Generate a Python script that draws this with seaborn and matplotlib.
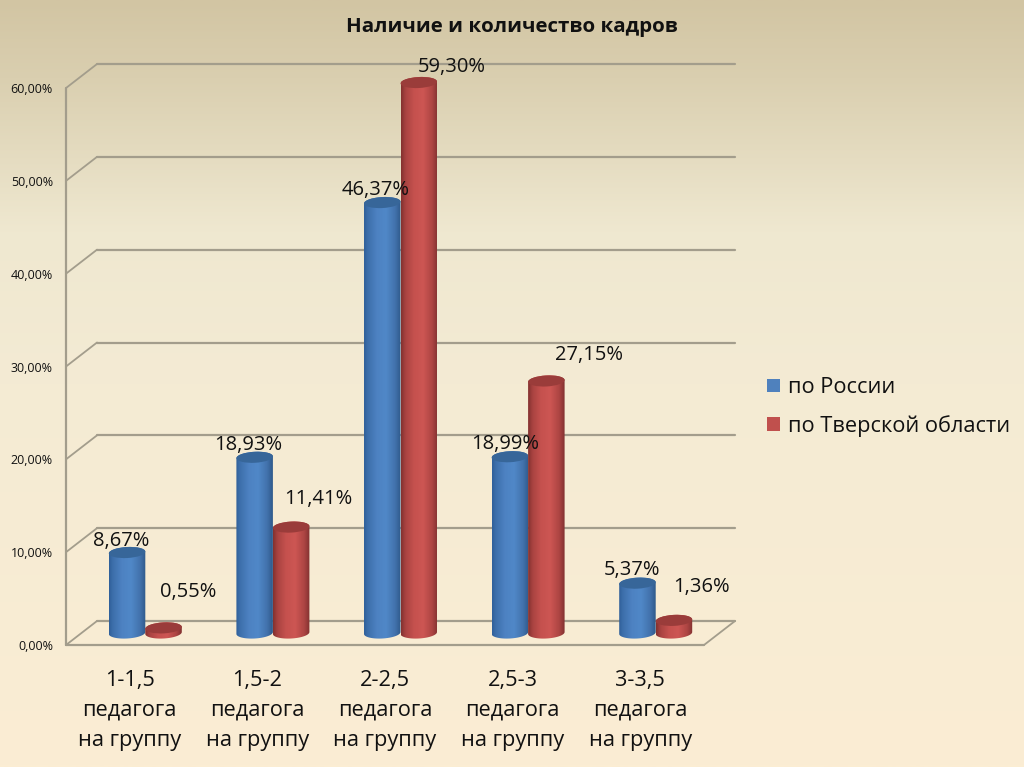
import matplotlib.pyplot as plt
import numpy as np
import pandas as pd
import seaborn as sns
from matplotlib.colors import LinearSegmentedColormap
from matplotlib.patches import Ellipse
from matplotlib.path import Path
from matplotlib.transforms import Affine2D, IdentityTransform

sns.set_theme(style="white")
plt.rcParams["font.family"] = ["Open Sans", "DejaVu Sans"]

groups = ["1-1,5\nпедагога\nна группу", "1,5-2\nпедагога\nна группу", "2-2,5\nпедагога\nна группу",
          "2,5-3\nпедагога\nна группу", "3-3,5\nпедагога\nна группу"]
series = ["по России", "по Тверской области"]
russia = [8.67, 18.93, 46.37, 18.99, 5.37]
tver = [0.55, 11.41, 59.30, 27.15, 1.36]
y_ticks = [0, 10, 20, 30, 40, 50, 60]

# label offsets from the bar top, in pixels
russia_offsets = [(-6, 12), (-6.5, 12.5), (-7, 13), (-5, 12.5), (-5, 13.5)]
tver_offsets = [(24.5, 35.5), (27, 28.5), (33, 16), (43, 25.5), (28, 33.5)]

DEPTH_X, DEPTH_Y = 15.5, 12
FRONT = Affine2D().translate(-DEPTH_X, -DEPTH_Y)
BACK = Affine2D().translate(DEPTH_X, DEPTH_Y)
LINE_COLOR = "#a39d8c"
TEXT_COLOR = "#111111"
RADIUS_Y = 5.5
TILT = np.deg2rad(3)

df = pd.DataFrame({
    "group": groups * 2,
    "series": [series[0]] * 5 + [series[1]] * 5,
    "value": russia + tver,
})

fig = plt.figure(figsize=(10.24, 7.67), dpi=100)

bg = fig.add_axes([0, 0, 1, 1], zorder=-1)
bg_cmap = LinearSegmentedColormap.from_list("bg", [
    (0, "#d2c5a3"), (0.1, "#dacfb0"), (0.3, "#efe8d0"), (0.5, "#f4ebd4"), (1, "#fbedd3")])
bg.imshow(np.linspace(0, 1, 256)[:, None], cmap=bg_cmap, aspect="auto", extent=(0, 1, 0, 1))
bg.axis("off")

ax = fig.add_axes([81.5 / 1024, (767 - 633) / 767, 638 / 1024, 62 * 9.283 / 767])
sns.barplot(data=df, x="group", y="value", hue="series", palette=["#4f81bd", "#c0504d"],
            width=0.572, gap=0, saturation=1, ax=ax)
ax.patch.set_alpha(0)
ax.set_xlim(-0.5, 4.5)
ax.set_ylim(0, 62)
ax.set_xlabel("")
ax.set_ylabel("")
sns.despine(ax=ax, left=True, bottom=True)
ax.set_yticks(y_ticks, [f"{t:.2f}%".replace(".", ",") for t in y_ticks])
ax.tick_params(axis="y", length=0, pad=9.4, labelsize=9, labelcolor=TEXT_COLOR)
ax.tick_params(axis="x", length=0, pad=26.5, labelsize=15.7, labelcolor=TEXT_COLOR)
for label in ax.get_yticklabels():
    label.set_transform(label.get_transform() + FRONT)
for label in ax.get_xticklabels():
    label.set_transform(label.get_transform() + Affine2D().translate(-DEPTH_X, 0))
    label.set_linespacing(1.56)

# walls: back lines, side lines to the front plane, front frame
for t in y_ticks:
    ax.plot([-0.5, 4.5], [t, t], color=LINE_COLOR, lw=1.6, transform=ax.transData + BACK, zorder=1, clip_on=False)
    x0, y0 = ax.transData.transform((-0.5, t))
    ax.plot([x0 - DEPTH_X, x0 + DEPTH_X], [y0 - DEPTH_Y, y0 + DEPTH_Y], color=LINE_COLOR, lw=1.3,
            transform=IdentityTransform(), zorder=1, clip_on=False)
ax.plot([-0.5, -0.5], [0, 60], color=LINE_COLOR, lw=1.6, transform=ax.transData + FRONT, zorder=1, clip_on=False)
ax.plot([-0.5, 4.5], [0, 0], color=LINE_COLOR, lw=1.6, transform=ax.transData + FRONT, zorder=1, clip_on=False)
x1, y1 = ax.transData.transform((4.5, 0))
ax.plot([x1 - DEPTH_X, x1 + DEPTH_X], [y1 - DEPTH_Y, y1 + DEPTH_Y], color=LINE_COLOR, lw=1.3,
        transform=IdentityTransform(), zorder=1, clip_on=False)


def draw_cylinder(bar, cmap, cap_color, zorder):
    # bar rectangle from seaborn becomes a shaded cylinder
    x, w, h = bar.get_x(), bar.get_width(), bar.get_height()
    bar.set_visible(False)
    (left, base), (right, top) = ax.transData.transform([(x, 0), (x + w, h)])
    cx, rx = (left + right) / 2, (right - left) / 2
    theta = np.linspace(np.pi, 2 * np.pi, 40)
    ex, ey = rx * np.cos(theta), RADIUS_Y * np.sin(theta)
    lower = np.column_stack([cx + ex, base + ey + ex * np.tan(TILT)])
    upper = np.column_stack([cx - ex, top - ey - ex * np.tan(TILT)])
    outline = Path(np.vstack([lower, upper, lower[:1]]))
    pad = RADIUS_Y * 2 * 62 / ax.bbox.height
    im = ax.imshow(np.linspace(0, 1, 64)[None, :], cmap=cmap, aspect="auto", interpolation="bilinear",
                   extent=(x, x + w, -pad, h + pad), zorder=zorder)
    im.set_clip_box(fig.bbox)
    im.set_clip_path(outline, transform=IdentityTransform())
    ax.add_patch(Ellipse((cx, top), 2 * rx, 2 * RADIUS_Y, angle=3, facecolor=cap_color, edgecolor="none",
                         transform=IdentityTransform(), zorder=zorder + 0.1, clip_on=False))


blue_cmap = LinearSegmentedColormap.from_list("blue", [
    (0, "#30609a"), (0.1, "#3d6fab"), (0.35, "#4d82c2"), (0.6, "#5088c8"), (0.85, "#4272ac"), (1, "#2f5a8c")])
red_cmap = LinearSegmentedColormap.from_list("red", [
    (0, "#843230"), (0.12, "#a94341"), (0.35, "#c5514e"), (0.6, "#cd5653"), (0.85, "#ad4543"), (1, "#823130")])

for bar in ax.containers[0]:
    draw_cylinder(bar, blue_cmap, "#376699", 3)
for bar in ax.containers[1]:
    draw_cylinder(bar, red_cmap, "#9a3c3a", 3.5)

for container, offsets in zip(ax.containers, [russia_offsets, tver_offsets]):
    for bar, (dx, dy) in zip(container, offsets):
        ax.annotate(f"{bar.get_height():.2f}%".replace(".", ","),
                    (bar.get_x() + bar.get_width() / 2, bar.get_height()),
                    xytext=(dx, dy), textcoords="offset pixels", ha="center", va="center",
                    fontsize=14.5, color=TEXT_COLOR, zorder=6, annotation_clip=False)

ax.set_xlim(-0.5, 4.5)
ax.set_ylim(0, 62)

sns.move_legend(ax, "center left", bbox_to_anchor=(767 / 1024, 1 - 407 / 767), bbox_transform=fig.transFigure,
                frameon=False, title=None, fontsize=15.7, handlelength=0.6, handleheight=0.6,
                handletextpad=0.38, labelspacing=0.77, borderpad=0, borderaxespad=0)
legend = ax.get_legend()
for handle in legend.get_patches():
    handle.set_edgecolor("none")
for text in legend.get_texts():
    text.set_color(TEXT_COLOR)

fig.text(512 / 1024, 1 - 27 / 767, "Наличие и количество кадров", ha="center", va="center",
         fontsize=14.75, fontweight="bold", color=TEXT_COLOR)

plt.savefig("out.png", dpi=100)
plt.close(fig)
